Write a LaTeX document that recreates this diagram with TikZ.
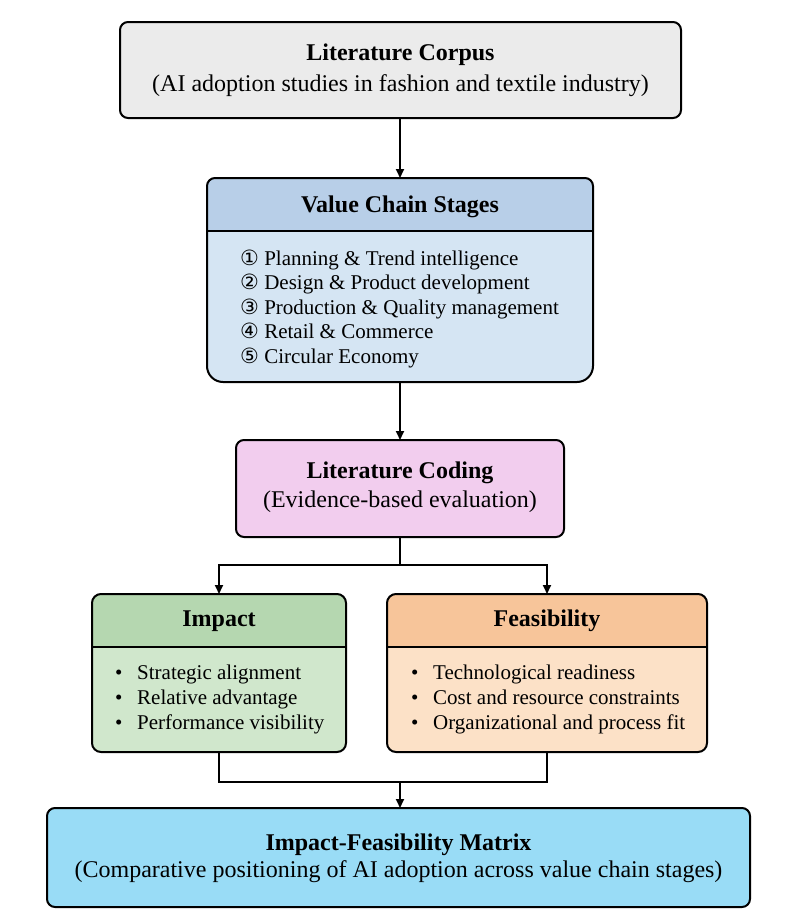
\documentclass[tikz,border=0pt]{standalone}
\usepackage{fontspec}
\setmainfont{Liberation Serif}
\newfontfamily\symfont{DejaVu Sans}
\usetikzlibrary{arrows.meta,calc}
\definecolor{cgray}{HTML}{EBEBEB}
\definecolor{vhead}{HTML}{B8CFE8}
\definecolor{vbody}{HTML}{D5E5F3}
\definecolor{cpink}{HTML}{F2CDEE}
\definecolor{ihead}{HTML}{B5D7B0}
\definecolor{ibody}{HTML}{D0E7CC}
\definecolor{fhead}{HTML}{F7C59A}
\definecolor{fbody}{HTML}{FCE1C7}
\definecolor{mblue}{HTML}{99DCF6}
\newcommand{\cnum}[1]{{\symfont\fontsize{21}{21}\selectfont #1}}
\newcommand{\bul}{\makebox[22pt][l]{•}}
\begin{document}
\begin{tikzpicture}[x=1pt,y=-1pt,
  box/.style={draw=black, line width=2pt, rounded corners=8pt, inner sep=0pt, outer sep=0pt, anchor=north west},
  ghost/.style={shape=rectangle, inner sep=0pt, outer sep=0pt, anchor=north west},
  outl/.style={draw=black, line width=2pt},
  ttl/.style={font=\fontsize{24}{24}\selectfont\bfseries, anchor=base, inner sep=0pt},
  sub/.style={font=\fontsize{24}{24}\selectfont, anchor=base, inner sep=0pt},
  item/.style={font=\fontsize{21}{21}\selectfont, anchor=base west, inner sep=0pt},
  conn/.style={line width=1.8pt},
  arr/.style={line width=1.8pt, -{Triangle[length=9pt,width=8pt]}}]
\useasboundingbox (0,0) rectangle (800,924);

% Literature corpus
\node[box, fill=cgray, minimum width=561pt, minimum height=96pt] (corpus) at (120,22) {};
\node[ttl] (corpusT) at (400.5,60) {Literature Corpus};
\node[sub] (corpusS) at (400.5,91) {(AI adoption studies in fashion and textile industry)};

% Value chain stages
\node[ghost, minimum width=386pt, minimum height=204pt] (vcs) at (207,178) {};
\fill[vbody] (300,178) [rounded corners=8pt] -- (593,178) -- (593,250) [rounded corners=16pt] -- (593,382) -- (207,382) -- (207,250) [rounded corners=8pt] -- (207,178) -- cycle;
\begin{scope}
\clip (300,178) [rounded corners=8pt] -- (593,178) -- (593,250) [rounded corners=16pt] -- (593,382) -- (207,382) -- (207,250) [rounded corners=8pt] -- (207,178) -- cycle;
\fill[vhead] (200,170) rectangle (600,231);
\end{scope}
\draw[outl] (207,231) -- (593,231);
\draw[outl] (300,178) [rounded corners=8pt] -- (593,178) -- (593,250) [rounded corners=16pt] -- (593,382) -- (207,382) -- (207,250) [rounded corners=8pt] -- (207,178) -- cycle;
\node[ttl] (vcsT) at (400,212) {Value Chain Stages};
\node[item] (v1) at (240,265) {\cnum{①} Planning \& Trend intelligence};
\node[item] (v2) at (240,289.5) {\cnum{②} Design \& Product development};
\node[item] (v3) at (240,314) {\cnum{③} Production \& Quality management};
\node[item] (v4) at (240,338.5) {\cnum{④} Retail \& Commerce};
\node[item] (v5) at (240,363) {\cnum{⑤} Circular Economy};

% Literature coding
\node[box, fill=cpink, minimum width=328pt, minimum height=97pt] (coding) at (236,440) {};
\node[ttl] (codingT) at (400,478) {Literature Coding};
\node[sub] (codingS) at (400,507) {(Evidence-based evaluation)};

% Impact
\node[ghost, minimum width=254pt, minimum height=158pt] (impact) at (92,594) {};
\fill[ibody, rounded corners=9pt] (92,594) rectangle (346,752);
\begin{scope}
\clip[rounded corners=9pt] (92,594) rectangle (346,752);
\fill[ihead] (85,585) rectangle (350,647);
\end{scope}
\draw[outl] (92,647) -- (346,647);
\draw[outl, rounded corners=9pt] (92,594) rectangle (346,752);
\node[ttl] (impactT) at (219,626) {Impact};
\node[item] (i1) at (115,679) {\bul Strategic alignment};
\node[item] (i2) at (115,704) {\bul Relative advantage};
\node[item] (i3) at (115,729) {\bul Performance visibility};

% Feasibility
\node[ghost, minimum width=320pt, minimum height=158pt] (feas) at (387,594) {};
\fill[fbody, rounded corners=9pt] (387,594) rectangle (707,752);
\begin{scope}
\clip[rounded corners=9pt] (387,594) rectangle (707,752);
\fill[fhead] (380,585) rectangle (712,647);
\end{scope}
\draw[outl] (387,647) -- (707,647);
\draw[outl, rounded corners=9pt] (387,594) rectangle (707,752);
\node[ttl] (feasT) at (547,626) {Feasibility};
\node[item] (f1) at (411,679) {\bul Technological readiness};
\node[item] (f2) at (411,704) {\bul Cost and resource constraints};
\node[item] (f3) at (411,729) {\bul Organizational and process fit};

% Matrix
\node[box, fill=mblue, minimum width=703pt, minimum height=99pt] (matrix) at (47,808) {};
\node[ttl] (matrixT) at (398.5,850) {Impact-Feasibility Matrix};
\node[sub] (matrixS) at (398.5,877) {(Comparative positioning of AI adoption across value chain stages)};

% Connectors
\draw[arr] (corpus.south -| vcs.north) -- (vcs.north);
\draw[arr] (vcs.south) -- (vcs.south |- coding.north);
\coordinate (split) at ($(coding.south)+(0,28)$);
\draw[conn] (coding.south) -- (split);
\draw[arr] (split) -| (impact.north);
\draw[arr] (split) -| (feas.north);
\coordinate (merge) at (400,782);
\draw[conn] (impact.south) |- (merge) -| (feas.south);
\draw[arr] (merge) -- (merge |- matrix.north);
\end{tikzpicture}
\end{document}
